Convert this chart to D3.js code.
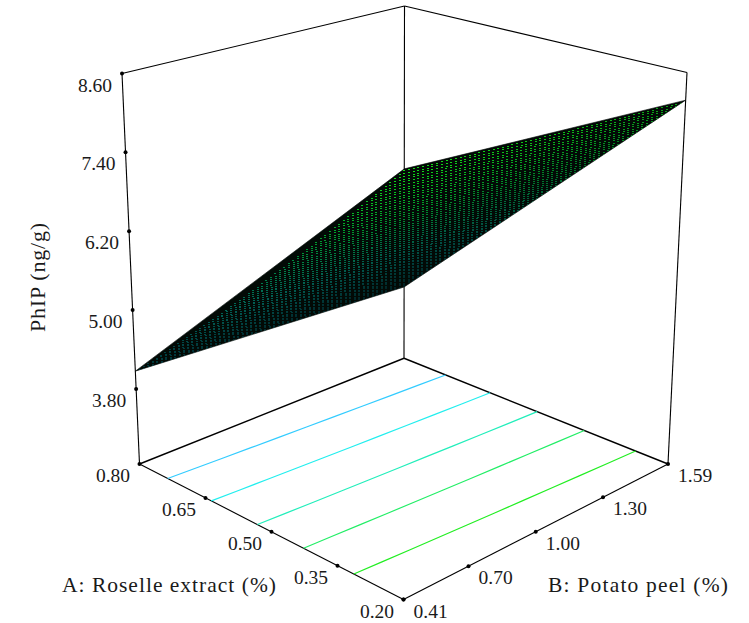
<!DOCTYPE html>
<html>
<head>
<meta charset="utf-8">
<script src="https://cdn.jsdelivr.net/npm/d3@7"></script>
<style>
    html, body { margin: 0; padding: 0; background: #fff; }
    svg { display: block; }
    text { font-family: "Liberation Serif", serif; fill: #1a1a1a; }
</style>
</head>
<body>
<div id="chart"></div>
<script>
// Tick labels
const roselleTicks = [0.20, 0.35, 0.50, 0.65, 0.80];
const peelTicks = [0.41, 0.70, 1.00, 1.30, 1.59];
const phipTicks = [3.80, 5.00, 6.20, 7.40, 8.60];

// Surface at its four corners, columns = peel [0.41, 1.59]
const phipAtLowRoselle = [8.48, 8.18];
const phipAtHighRoselle = [4.07, 3.86];

// Contour levels on the floor
const contourLevels = [4.54, 5.27, 6.04, 6.81, 7.65];
const contourColors = ["#33ccff", "#22eeee", "#22eebb", "#22ee66", "#22ee22"];

const phipFloor = 2.657;   // the floor sits below the first tick
const phipTop = 8.60;
const meshSize = 60;

const width = 749;
const height = 623;

// Box corners on screen: [low/low, high A, high B, high/high]
const floorCorners = [[403.5, 599.5], [139.5, 464], [668, 464], [404, 358.3]];
const topCorners = [[404.3, 160], [122, 73.5], [687, 72.5], [404.5, 6]];

// Scales into the unit box
const a = d3.scaleLinear().domain(d3.extent(roselleTicks)).range([0, 1]);
const b = d3.scaleLinear().domain(d3.extent(peelTicks)).range([0, 1]);
const z = d3.scaleLinear().domain([phipFloor, phipTop]).range([0, 1]);

function onPlane(c, u, v) {
    const near = d3.interpolate(c[0], c[2])(v);
    const far = d3.interpolate(c[1], c[3])(v);
    return d3.interpolate(near, far)(u);
}
function project(u, v, w) {
    return d3.interpolate(onPlane(floorCorners, u, v), onPlane(topCorners, u, v))(w);
}
const at = (roselle, peel, phip) => project(a(roselle), b(peel), z(phip));

// Surface value, straight between the corners
function phipAt(u, v) {
    const low = d3.interpolateNumber(phipAtLowRoselle[0], phipAtLowRoselle[1])(v);
    const high = d3.interpolateNumber(phipAtHighRoselle[0], phipAtHighRoselle[1])(v);
    return d3.interpolateNumber(low, high)(u);
}

const surfaceColor = d3.scaleLinear()
    .domain([3.86, 5.6, 7.0, 8.48])
    .range(["#00b4d8", "#00c8b0", "#00d040", "#14e014"]);

const svg = d3.select("#chart")
    .append("svg")
    .attr("width", width)
    .attr("height", height);

const line = d3.line();

// Box edges
const r0 = roselleTicks[0], r1 = roselleTicks[4];
const p0 = peelTicks[0], p1 = peelTicks[4];
const edges = [
    [[r1, p0, phipFloor], [r1, p0, phipTop]],
    [[r0, p1, phipFloor], [r0, p1, phipTop]],
    [[r1, p1, phipFloor], [r1, p1, phipTop]],
    [[r1, p0, phipTop], [r1, p1, phipTop]],
    [[r1, p1, phipTop], [r0, p1, phipTop]],
    [[r1, p0, phipFloor], [r1, p1, phipFloor]],
    [[r1, p1, phipFloor], [r0, p1, phipFloor]],
    [[r1, p0, phipFloor], [r0, p0, phipFloor]],
    [[r0, p0, phipFloor], [r0, p1, phipFloor]]
];
svg.append("g").selectAll("path")
    .data(edges)
    .enter().append("path")
    .attr("d", d => line(d.map(c => at(c[0], c[1], c[2]))))
    .attr("fill", "none")
    .attr("stroke", "#000")
    .attr("stroke-width", (d, i) => i === 5 || i === 6 ? 1.5 : 1.1);

// Contours on the floor
const contourG = svg.append("g");
contourLevels.forEach(function(level, i) {
    const pts = d3.range(0, 1.001, 0.1).map(function(v) {
        const low = phipAt(0, v), high = phipAt(1, v);
        return project((low - level) / (low - high), v, 0);
    });
    contourG.append("path")
        .attr("d", line(pts))
        .attr("fill", "none")
        .attr("stroke", contourColors[i])
        .attr("stroke-width", 1.2);
});

// Surface: black sheet, one small coloured dot showing through each mesh cell
const surfacePoint = (u, v) => project(u, v, z(phipAt(u, v)));
const outline = [[0, 0], [1, 0], [1, 1], [0, 1]].map(c => surfacePoint(c[0], c[1]));
svg.append("clipPath")
    .attr("id", "surfaceClip")
    .append("path")
    .attr("d", line(outline) + "Z");
svg.append("path")
    .attr("d", line(outline) + "Z")
    .attr("fill", "#020a06")
    .attr("stroke", "#020a06")
    .attr("stroke-width", 0.6);

const cells = [];
d3.range(meshSize).forEach(i => d3.range(meshSize).forEach(j => cells.push([i, j])));
const cellArea = d => Math.abs(d3.polygonArea([
    surfacePoint(d[0] / meshSize, d[1] / meshSize),
    surfacePoint((d[0] + 1) / meshSize, d[1] / meshSize),
    surfacePoint((d[0] + 1) / meshSize, (d[1] + 1) / meshSize),
    surfacePoint(d[0] / meshSize, (d[1] + 1) / meshSize)
]));
const dotOpacity = d3.scaleLinear()
    .domain(d3.extent(cells, cellArea))
    .range([0.12, 1]);

svg.append("g")
    .attr("clip-path", "url(#surfaceClip)")
    .attr("shape-rendering", "crispEdges")
    .selectAll("rect")
    .data(cells)
    .enter().append("rect")
    .attr("x", d => Math.round(surfacePoint((d[0] + 0.5) / meshSize, (d[1] + 0.5) / meshSize)[0]) - 1)
    .attr("y", d => Math.round(surfacePoint((d[0] + 0.5) / meshSize, (d[1] + 0.5) / meshSize)[1]))
    .attr("width", 2)
    .attr("height", 1)
    .attr("fill", d => surfaceColor(phipAt((d[0] + 0.5) / meshSize, (d[1] + 0.5) / meshSize)))
    .attr("opacity", d => dotOpacity(cellArea(d)));

// Tick dots
const dots = []
    .concat(roselleTicks.map(t => at(t, p0, phipFloor)))
    .concat(peelTicks.map(t => at(r0, t, phipFloor)))
    .concat(phipTicks.map(t => at(r1, p0, t)));
svg.append("g").selectAll("circle")
    .data(dots)
    .enter().append("circle")
    .attr("cx", d => d[0])
    .attr("cy", d => d[1])
    .attr("r", 2)
    .attr("fill", "#000");

// Tick labels
const tickLabel = (pos, dx, s, anchor) => svg.append("text")
    .attr("x", pos[0] + dx).attr("y", pos[1] + 18)
    .attr("text-anchor", anchor)
    .style("font-size", "19.5px")
    .text(s);

phipTicks.forEach(t => tickLabel(at(r1, p0, t), -10, t.toFixed(2), "end"));
roselleTicks.forEach(t => tickLabel(at(t, p0, phipFloor), -9.5, t.toFixed(2), "end"));
peelTicks.forEach(t => tickLabel(at(r0, t, phipFloor), 10, t.toFixed(2), "start"));

// Axis titles
svg.append("text")
    .attr("x", 62).attr("y", 592)
    .attr("textLength", 214)
    .style("font-size", "21.5px")
    .text("A: Roselle extract (%)");
svg.append("text")
    .attr("x", 548).attr("y", 592)
    .attr("textLength", 180)
    .style("font-size", "21.5px")
    .text("B: Potato peel (%)");
svg.append("text")
    .attr("transform", "translate(45,332) rotate(-90)")
    .attr("textLength", 109)
    .style("font-size", "22px")
    .text("PhIP (ng/g)");
</script>
</body>
</html>
